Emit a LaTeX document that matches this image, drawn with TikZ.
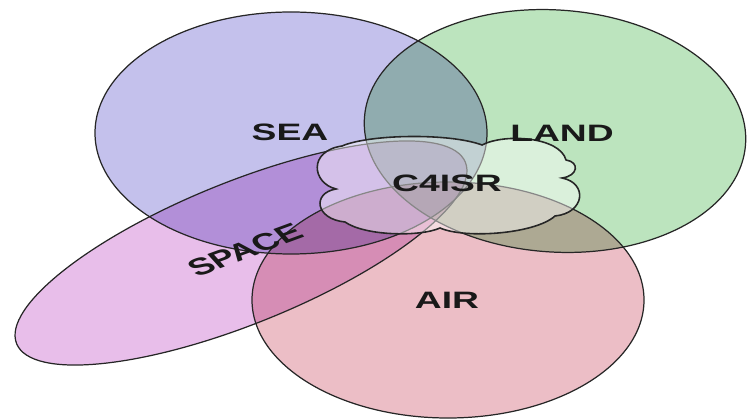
\documentclass[tikz,border=0pt]{standalone}
\usepackage{fontspec}
\setmainfont{Liberation Sans}
\usetikzlibrary{calc}
\definecolor{seacol}{RGB}{196,193,236}
\definecolor{landcol}{RGB}{188,228,190}
\definecolor{aircol}{RGB}{236,190,198}
\definecolor{spacecol}{RGB}{232,190,234}
\tikzset{
  rim/.style={draw=black!85,line width=0.7pt},
  lbl/.style={font=\fontsize{13.5}{16}\selectfont\bfseries,text=black!90,inner sep=0pt,xscale=1.57}
}
\begin{document}
\begin{tikzpicture}[x=0.02cm,y=0.02cm]
      \useasboundingbox(0,0)rectangle(749,419);
      \coordinate(SEA)at(291,286);\coordinate(LAND)at(555,288);
      \coordinate(AIR)at(448,119);\coordinate(SPACE)at(241,166);
      % coloured fields
      \begin{scope}[blend group=multiply]
        \fill[seacol](SEA)ellipse[x radius=196,y radius=121];
        \fill[landcol,rotate around={-4:(LAND)}](LAND)ellipse[x radius=191,y radius=121];
        \fill[aircol](AIR)ellipse[x radius=196,y radius=118];
        \fill[spacecol,rotate around={22:(SPACE)}](SPACE)ellipse[x radius=242,y radius=71];
      \end{scope}
      \draw[rim](SEA)ellipse[x radius=196,y radius=121];
      \draw[rim,rotate around={-4:(LAND)}](LAND)ellipse[x radius=191,y radius=121];
      \draw[rim](AIR)ellipse[x radius=196,y radius=118];
      \draw[rim,rotate around={22:(SPACE)}](SPACE)ellipse[x radius=242,y radius=71];
      % the cloud in the middle
      \draw[rim,line width=0.9pt,fill=white,fill opacity=0.45]
        (336,230) .. controls (312,236) and (308,268) .. (342,273)
                  .. controls (370,285) and (450,286) .. (482,274)
                  .. controls (505,286) and (560,282) .. (566,259)
                  .. controls (580,257) and (578,243) .. (562,241)
                  .. controls (588,236) and (585,206) .. (555,203)
                  .. controls (535,185) and (465,180) .. (440,191)
                  .. controls (420,182) and (365,183) .. (345,197)
                  .. controls (315,200) and (312,226) .. (336,230) -- cycle;
      \foreach \N/\T/\P in{sea/SEA/{(290,287)}, land/LAND/{(562,286)}, c4isr/C4ISR/{(447,236)}, air/AIR/{(447,119)}}{
        \node[lbl](\N)at\P{\T};
      }
      \node[lbl,rotate=30](space)at(245,169){SPACE};
    \end{tikzpicture}
\end{document}
